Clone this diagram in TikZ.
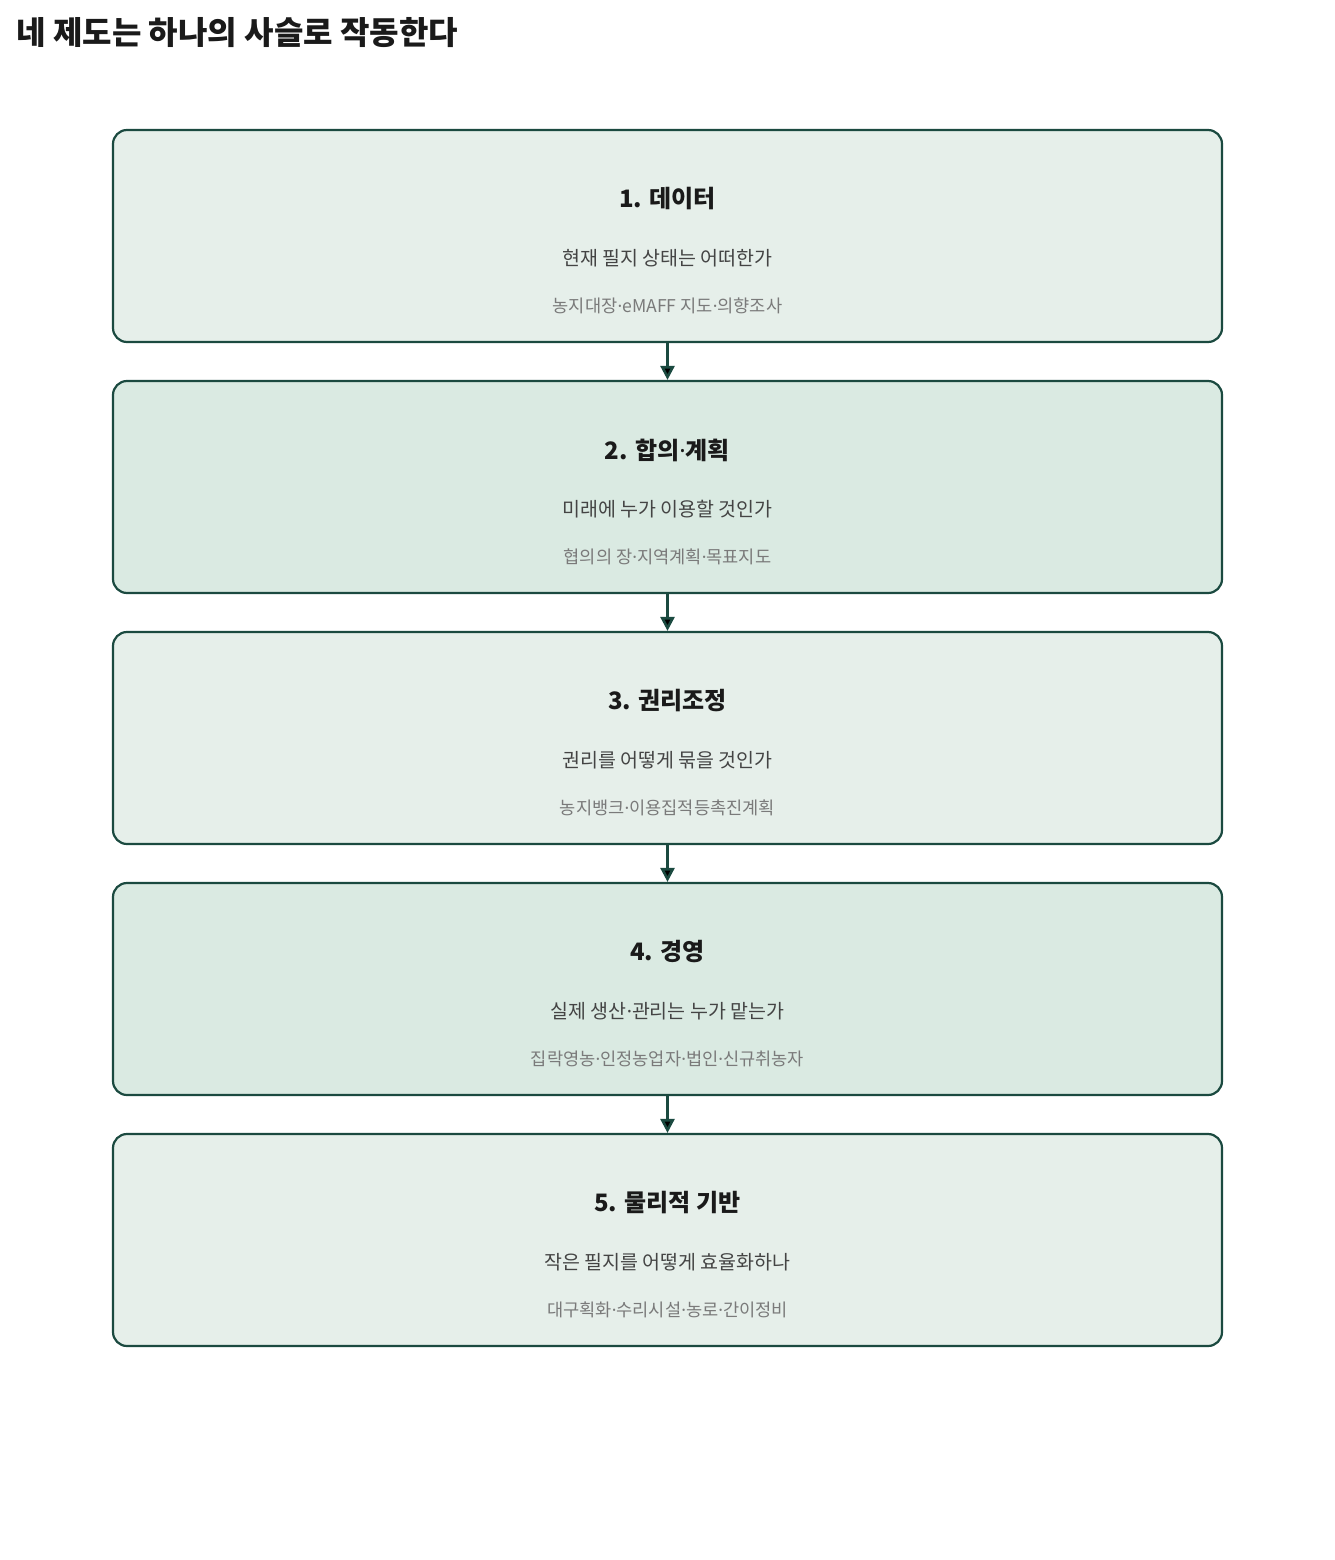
\documentclass[tikz,border=0pt]{standalone}
\usepackage{fontspec}
\setmainfont{Noto Sans CJK KR}
\newfontfamily\latinf{Noto Sans}
\newcommand\mdot{{\latinf ·}}
\usetikzlibrary{arrows.meta}
\usetikzlibrary{positioning}

\definecolor{lineG}{HTML}{1B4A40}
\definecolor{fillA}{HTML}{E6EFEA}
\definecolor{fillB}{HTML}{DAEAE2}
\definecolor{headK}{HTML}{1A1A1A}
\definecolor{subK}{HTML}{444444}
\definecolor{noteK}{HTML}{7A7A7A}

\begin{document}
\begin{tikzpicture}[x=1pt,y=1pt,
    stage/.style={draw=lineG, line width=2.2pt, rounded corners=14pt,
      minimum width=1109pt, minimum height=212pt, inner sep=0pt},
    head/.style={font=\fontsize{24}{28}\selectfont\bfseries, text=headK},
    sub/.style={font=\fontsize{19.5}{24}\selectfont, text=subK},
    note/.style={font=\fontsize{17.6}{20}\selectfont, text=noteK},
    link/.style={draw=lineG, line width=2.6pt, -{Triangle[length=14pt,width=14pt]}}]
    \useasboundingbox (0,0) rectangle (1335,-1560);

    \node[anchor=west, font=\fontsize{32}{36}\selectfont\bfseries, text=headK]
      (title) at (13,-33) {네 제도는 하나의 사슬로 작동한다};

    \node[stage, fill=fillA] (s1) at (667.5,-236) {};
    \node[stage, fill=fillB, below=36.8pt of s1] (s2) {};
    \node[stage, fill=fillA, below=36.8pt of s2] (s3) {};
    \node[stage, fill=fillB, below=36.8pt of s3] (s4) {};
    \node[stage, fill=fillA, below=36.8pt of s4] (s5) {};

    \node[head] (h1) at ([yshift=37pt]s1.center) {1. 데이터};
    \node[sub]  (q1) at ([yshift=-22pt]s1.center) {현재 필지 상태는 어떠한가};
    \node[note] (n1) at ([yshift=-70pt]s1.center) {농지대장\mdot eMAFF 지도\mdot 의향조사};

    \node[head] (h2) at ([yshift=37pt]s2.center) {2. 합의\mdot 계획};
    \node[sub]  (q2) at ([yshift=-22pt]s2.center) {미래에 누가 이용할 것인가};
    \node[note] (n2) at ([yshift=-70pt]s2.center) {협의의 장\mdot 지역계획\mdot 목표지도};

    \node[head] (h3) at ([yshift=37pt]s3.center) {3. 권리조정};
    \node[sub]  (q3) at ([yshift=-22pt]s3.center) {권리를 어떻게 묶을 것인가};
    \node[note] (n3) at ([yshift=-70pt]s3.center) {농지뱅크\mdot 이용집적등촉진계획};

    \node[head] (h4) at ([yshift=37pt]s4.center) {4. 경영};
    \node[sub]  (q4) at ([yshift=-22pt]s4.center) {실제 생산\mdot 관리는 누가 맡는가};
    \node[note] (n4) at ([yshift=-70pt]s4.center) {집락영농\mdot 인정농업자\mdot 법인\mdot 신규취농자};

    \node[head] (h5) at ([yshift=37pt]s5.center) {5. 물리적 기반};
    \node[sub]  (q5) at ([yshift=-22pt]s5.center) {작은 필지를 어떻게 효율화하나};
    \node[note] (n5) at ([yshift=-70pt]s5.center) {대구획화\mdot 수리시설\mdot 농로\mdot 간이정비};

    \path[link] (s1) edge (s2);
    \path[link] (s2) edge (s3);
    \path[link] (s3) edge (s4);
    \path[link] (s4) edge (s5);
\end{tikzpicture}
\end{document}
